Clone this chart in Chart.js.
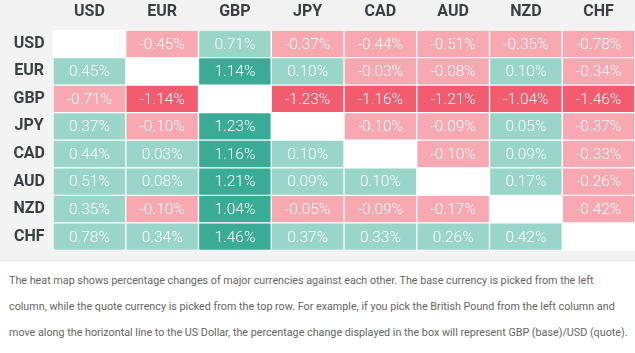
<!DOCTYPE html>
<html>
<head>
<meta charset="utf-8">
<script src="https://cdn.jsdelivr.net/npm/chart.js@4"></script>
<style>
  html, body { margin: 0; padding: 0; background: #ffffff; }
  body { width: 635px; height: 353px; overflow: hidden; }
  #wrap { width: 635px; height: 260px; border-bottom: 1px solid #e6e6e6; background: #f3f3f3; }
  #note { margin: 7px 0 0 0; padding-left: 9px; font-family: Roboto, "Noto Sans", sans-serif;
          font-size: 10.75px; line-height: 26px; color: #666666; white-space: nowrap; }
</style>
</head>
<body>
<div id="wrap"><canvas id="c" width="635" height="260"></canvas></div>
<div id="note">The heat map shows percentage changes of major currencies against each other. The base currency is picked from the left<br>column, while the quote currency is picked from the top row. For example, if you pick the British Pound from the left column and<br>move along the horizontal line to the US Dollar, the percentage change displayed in the box will represent GBP (base)/USD (quote).</div>
<script>
// Quote currencies (columns) and base currencies (rows)
const columns = ["USD", "EUR", "GBP", "JPY", "CAD", "AUD", "NZD", "CHF"];
const rowsLabels = ["USD", "EUR", "GBP", "JPY", "CAD", "AUD", "NZD", "CHF"];

// Percentage change, base (row) / quote (column)
const usdRow = [null, -0.45, 0.71, -0.37, -0.44, -0.51, -0.35, -0.78];
const eurRow = [0.45, null, 1.14, 0.10, -0.03, -0.08, 0.10, -0.34];
const gbpRow = [-0.71, -1.14, null, -1.23, -1.16, -1.21, -1.04, -1.46];
const jpyRow = [0.37, -0.10, 1.23, null, -0.10, -0.09, 0.05, -0.37];
const cadRow = [0.44, 0.03, 1.16, 0.10, null, -0.10, 0.09, -0.33];
const audRow = [0.51, 0.08, 1.21, 0.09, 0.10, null, 0.17, -0.26];
const nzdRow = [0.35, -0.10, 1.04, -0.05, -0.09, -0.17, null, -0.42];
const chfRow = [0.78, 0.34, 1.46, 0.37, 0.33, 0.26, 0.42, null];

const matrix = [usdRow, eurRow, gbpRow, jpyRow, cadRow, audRow, nzdRow, chfRow];

function cellColor(v) {
  if (v === null || v === undefined) return "#ffffff";
  if (v >= 1) return "#3aab95";
  if (v > 0) return "#99d5c9";
  if (v <= -1) return "#f25c6e";
  return "#f8a8b1";
}

// one dataset per quote column; each cell occupies one unit of the stacked x axis
const datasets = columns.map((col, j) => {
  const vals = matrix.map(r => r[j]);
  return {
    label: col,
    data: vals.map(() => 1),
    cellValues: vals,
    backgroundColor: vals.map(cellColor),
    borderColor: "#ffffff",
    borderWidth: 1,
    borderSkipped: false,
    barPercentage: 1,
    categoryPercentage: 1,
    xAxisID: "x",
    yAxisID: "y"
  };
});

const headerColor = "#3b3f45";

const cellLabels = {
  id: "cellLabels",
  beforeDraw(chart) {
    const { ctx, chartArea } = chart;
    ctx.save();
    ctx.fillStyle = "#f3f3f3";
    ctx.fillRect(0, 0, chart.width, chart.height);
    ctx.fillStyle = "#ffffff";
    ctx.fillRect(chartArea.left, chartArea.top, chartArea.right - chartArea.left, chartArea.bottom - chartArea.top);
    ctx.restore();
  },
  afterDatasetsDraw(chart) {
    const { ctx } = chart;
    ctx.save();
    ctx.font = "300 15.5px Roboto";
    ctx.fillStyle = "#ffffff";
    ctx.textAlign = "center";
    ctx.textBaseline = "middle";
    chart.data.datasets.forEach((ds, j) => {
      const meta = chart.getDatasetMeta(j);
      meta.data.forEach((el, i) => {
        const v = ds.cellValues[i];
        if (v === null) return;
        const p = el.getCenterPoint();
        ctx.fillText(v.toFixed(2) + "%", p.x, p.y + 1);
      });
    });
    ctx.restore();
  }
};

new Chart(document.getElementById("c"), {
  type: "bar",
  data: { labels: rowsLabels, datasets },
  options: {
    indexAxis: "y",
    responsive: false,
    devicePixelRatio: 1,
    animation: false,
    layout: { padding: 0 },
    plugins: { legend: { display: false }, tooltip: { enabled: false } },
    scales: {
      x: { type: "linear", stacked: true, min: 0, max: columns.length, display: false },
      x2: {
        type: "category",
        axis: "x",
        labels: columns,
        position: "top",
        offset: true,
        grid: { display: false },
        border: { display: false },
        ticks: { color: headerColor, font: { family: "Roboto", size: 16, weight: "bold" }, padding: 0, maxRotation: 0, autoSkip: false },
        afterFit(scale) { scale.height = 30; }
      },
      y: {
        type: "category",
        stacked: true,
        grid: { display: false },
        border: { display: false },
        ticks: { color: headerColor, font: { family: "Roboto", size: 16, weight: "bold" }, padding: 0, crossAlign: "center", autoSkip: false },
        afterFit(scale) { scale.width = 53; }
      }
    }
  },
  plugins: [cellLabels]
});
</script>
</body>
</html>
